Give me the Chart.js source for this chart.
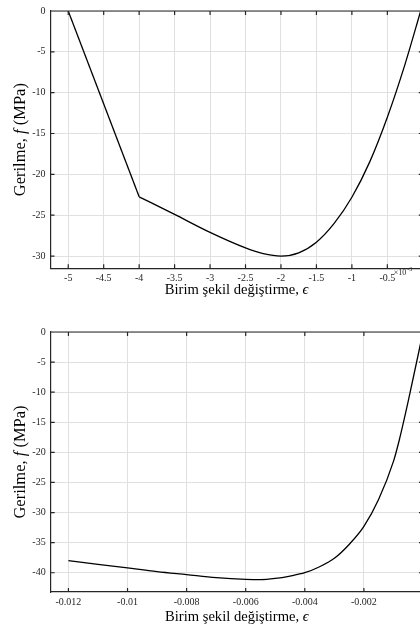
<!DOCTYPE html>
<html>
<head>
<meta charset="utf-8">
<script src="https://cdn.jsdelivr.net/npm/chart.js@4/dist/chart.umd.min.js"></script>
<style>
  html, body { margin: 0; padding: 0; background: #fff; overflow: hidden; width: 420px; height: 633px; }
  canvas { position: absolute; left: 0; }
  #top { top: 0; }
  #bottom { top: 305px; }
</style>
</head>
<body>
<canvas id="top" width="445" height="305"></canvas>
<canvas id="bottom" width="445" height="328"></canvas>
<script>
// Unconfined concrete (strain in units of 1e-3)
const strainTopDesc = [-5.0, -4.0];
const stressTopDesc = [0, -22.75];
const strainTopCurve = [-4.0, -3.5, -3.0, -2.5, -2.25, -2.0, -1.75, -1.5, -1.25, -1.0, -0.75, -0.5, -0.25, -0.03];
const stressTopCurve = [-22.75, -24.9, -27.1, -29.0, -29.7, -30.0, -29.6, -28.3, -26.0, -22.8, -18.5, -13.0, -6.5, 0];
const xTicksTop = [-5, -4.5, -4, -3.5, -3, -2.5, -2, -1.5, -1, -0.5, 0];
const xTickLabelsTop = ['-5', '-4.5', '-4', '-3.5', '-3', '-2.5', '-2', '-1.5', '-1', '-0.5', '0'];
const yTicksTop = [-30, -25, -20, -15, -10, -5, 0];

// Confined concrete
const strainBottom = [-0.012, -0.011, -0.010, -0.009, -0.008, -0.007, -0.006, -0.0055, -0.005, -0.0045, -0.004, -0.0035, -0.003, -0.0025, -0.002, -0.0015, -0.001, -0.0008, -0.0005, 0];
const stressBottom = [-38.0, -38.6, -39.2, -39.8, -40.3, -40.8, -41.1, -41.15, -40.95, -40.55, -40.0, -39.0, -37.6, -35.3, -32.3, -27.8, -21.5, -17.9, -11.5, 0];
const xTicksBottom = [-0.012, -0.01, -0.008, -0.006, -0.004, -0.002, 0];
const xTickLabelsBottom = ['-0.012', '-0.01', '-0.008', '-0.006', '-0.004', '-0.002', '0'];
const yTicksBottom = [-40, -35, -30, -25, -20, -15, -10, -5, 0];

const SERIF = '"Liberation Serif", "Times New Roman", serif';
const AXIS = '#262626';
const GRID = '#e0e0e0';

function pts(xs, ys) { return xs.map((x, i) => ({ x: x, y: ys[i] })); }

// Inner tick marks on all four sides, box outline, and rich axis titles
const framePlugin = {
  id: 'frame',
  afterDraw(chart, args, o) {
    const { ctx, chartArea: a, scales } = chart;
    const xs = scales.x, ys = scales.y;
    ctx.save();
    ctx.strokeStyle = AXIS;
    ctx.lineWidth = 1.2;
    ctx.beginPath();
    ctx.moveTo(a.left, a.top); ctx.lineTo(a.right, a.top);
    ctx.moveTo(a.right, a.top); ctx.lineTo(a.right, a.bottom);
    const L = 4;
    o.xTicks.forEach(v => {
      const p = xs.getPixelForValue(v);
      ctx.moveTo(p, a.bottom); ctx.lineTo(p, a.bottom - L);
      ctx.moveTo(p, a.top); ctx.lineTo(p, a.top + L);
    });
    o.yTicks.forEach(v => {
      const p = ys.getPixelForValue(v);
      ctx.moveTo(a.left, p); ctx.lineTo(a.left + L, p);
      ctx.moveTo(a.right, p); ctx.lineTo(a.right - L, p);
    });
    ctx.stroke();

    // x title
    ctx.fillStyle = '#000';
    ctx.textBaseline = 'middle';
    const fx = 14.6;
    const xPlain = 'Birim şekil değiştirme, ';
    const xIt = 'ϵ';
    ctx.font = fx + 'px ' + SERIF;
    const w1 = ctx.measureText(xPlain).width;
    ctx.font = 'italic ' + fx + 'px ' + SERIF;
    const w2 = ctx.measureText(xIt).width;
    const cx = (a.left + a.right) / 2;
    const sx = cx - (w1 + w2) / 2;
    ctx.font = fx + 'px ' + SERIF;
    ctx.textAlign = 'left';
    ctx.fillText(xPlain, sx, a.bottom + o.xTitleOffset);
    ctx.font = 'italic ' + fx + 'px ' + SERIF;
    ctx.fillText(xIt, sx + w1, a.bottom + o.xTitleOffset);

    // y title (rotated)
    const fy = 16.5;
    const parts = [['Gerilme, ', ''], ['f', 'italic '], [' (MPa)', '']];
    let total = 0;
    parts.forEach(p => { ctx.font = p[1] + fy + 'px ' + SERIF; p.push(ctx.measureText(p[0]).width); total += p[2]; });
    ctx.translate(o.yTitleX, (a.top + a.bottom) / 2);
    ctx.rotate(-Math.PI / 2);
    let px = -total / 2;
    parts.forEach(p => { ctx.font = p[1] + fy + 'px ' + SERIF; ctx.fillText(p[0], px, 0); px += p[2]; });
    ctx.setTransform(1, 0, 0, 1, 0, 0);

    // exponent marker
    if (o.exponent) {
      ctx.fillStyle = AXIS;
      ctx.font = '8px ' + SERIF;
      ctx.textBaseline = 'alphabetic';
      ctx.fillText('×10', a.right - 29, a.bottom + 7);
      ctx.font = '6px ' + SERIF;
      ctx.fillText('-3', a.right - 15.5, a.bottom + 3);
    }
    ctx.restore();
  }
};

function makeChart(id, datasets, cfg) {
  return new Chart(document.getElementById(id), {
    type: 'line',
    data: { datasets: datasets },
    plugins: [framePlugin],
    options: {
      responsive: false,
      animation: false,
      devicePixelRatio: 1,
      layout: { padding: cfg.padding },
      plugins: {
        legend: { display: false },
        tooltip: { enabled: false },
        frame: cfg.frame
      },
      elements: { point: { radius: 0 } },
      scales: {
        x: {
          type: 'linear',
          min: cfg.xMin, max: cfg.xMax,
          afterBuildTicks: s => { s.ticks = cfg.xTicks.map(v => ({ value: v })); },
          afterFit: s => { s.height = cfg.xAxisHeight; },
          ticks: {
            autoSkip: false, maxRotation: 0,
            padding: 4.5,
            color: AXIS,
            font: { family: SERIF, size: 10 },
            callback: v => cfg.xLabels[cfg.xTicks.indexOf(v)]
          },
          grid: { color: GRID, lineWidth: 1, drawTicks: false },
          border: { display: true, color: AXIS, width: 1.2 }
        },
        y: {
          type: 'linear',
          min: cfg.yMin, max: 0,
          afterBuildTicks: s => { s.ticks = cfg.yTicks.map(v => ({ value: v })); },
          afterFit: s => { s.width = cfg.yAxisWidth; },
          ticks: {
            padding: 5,
            color: AXIS,
            font: { family: SERIF, size: 10 },
            callback: v => String(v)
          },
          grid: { color: GRID, lineWidth: 1, drawTicks: false },
          border: { display: true, color: AXIS, width: 1.2 }
        }
      }
    }
  });
}

const lineStyle = { borderColor: '#000', borderWidth: 1.3, fill: false, pointRadius: 0 };

makeChart('top', [
  Object.assign({ data: pts(strainTopDesc, stressTopDesc), tension: 0 }, lineStyle),
  Object.assign({ data: pts(strainTopCurve, stressTopCurve), cubicInterpolationMode: 'monotone' }, lineStyle)
], {
  padding: { top: 9, left: 0, right: 22.2, bottom: 0 },
  xMin: -5.25, xMax: 0, yMin: -31.5,
  xTicks: xTicksTop, xLabels: xTickLabelsTop, yTicks: yTicksTop,
  xAxisHeight: 36.7, yAxisWidth: 50.5,
  frame: { xTicks: xTicksTop, yTicks: yTicksTop, xTitleOffset: 22, yTitleX: 21, exponent: true }
});

makeChart('bottom', [
  Object.assign({ data: pts(strainBottom, stressBottom), cubicInterpolationMode: 'monotone' }, lineStyle)
], {
  padding: { top: 27, left: 0, right: 22, bottom: 0 },
  xMin: -0.0126, xMax: 0, yMin: -43.2,
  xTicks: xTicksBottom, xLabels: xTickLabelsBottom, yTicks: yTicksBottom,
  xAxisHeight: 41, yAxisWidth: 50.7,
  frame: { xTicks: xTicksBottom, yTicks: yTicksBottom, xTitleOffset: 25, yTitleX: 21, exponent: false }
});
</script>
</body>
</html>
